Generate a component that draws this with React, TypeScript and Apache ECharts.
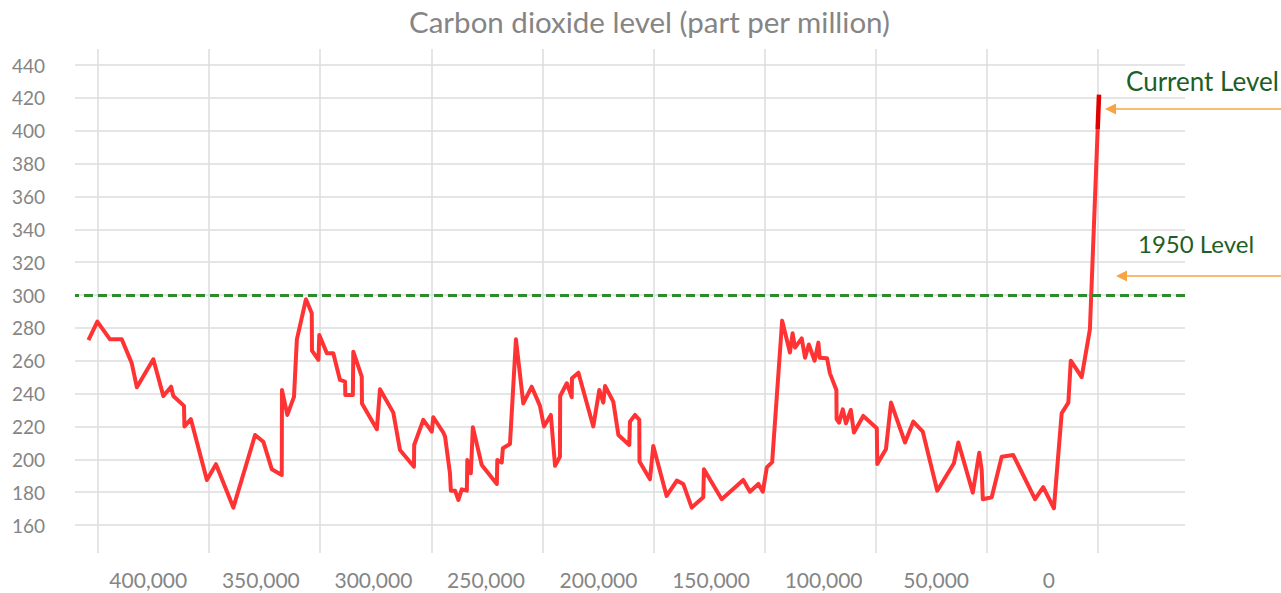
import React, { useEffect, useRef } from "react";
import * as echarts from "echarts";

const TITLE = "Carbon dioxide level (part per million)";
const xLabels = ["400,000", "350,000", "300,000", "250,000", "200,000", "150,000", "100,000", "50,000", "0"];
const yMin = 160;
const yMax = 440;
const yStep = 20;
const level1950 = 300;

// thousands of years before present (axis runs right-to-left)
const kya = [
  454.8, 450.8, 445.1, 439.8, 435.3, 433.0, 425.6, 421.1, 417.6, 416.6,
  411.8, 411.6, 408.7, 401.5, 397.4, 389.6, 379.8, 376.1, 372.3, 367.8,
  367.7, 365.3, 362.3, 361.0, 356.9, 354.3, 354.2, 351.3, 350.9, 347.5,
  344.6, 341.6, 339.3, 339.2, 335.8, 335.6, 331.8, 331.7, 325.0, 323.6,
  317.6, 314.6, 308.3, 308.2, 304.1, 300.3, 299.6, 295.1, 294.3, 292.1,
  291.7, 289.8, 288.3, 286.8, 284.5, 284.3, 282.7, 281.8, 277.8, 271.0,
  270.8, 268.8, 268.3, 265.1, 262.4, 259.1, 255.3, 251.6, 249.8, 246.7,
  244.8, 242.6, 242.5, 239.5, 237.3, 237.2, 234.3, 227.6, 224.9, 223.1,
  222.3, 218.6, 216.3, 211.4, 211.1, 208.8, 206.9, 206.8, 202.1, 200.6,
  194.6, 190.0, 187.1, 183.3, 178.1, 177.8, 169.8, 160.1, 157.1, 153.3,
  151.3, 149.5, 147.1, 142.6, 139.1, 137.9, 136.8, 133.8, 132.3, 130.6,
  128.0, 126.3, 125.7, 122.4, 121.1, 118.2, 118.1, 117.0, 115.3, 113.9,
  111.7, 110.3, 106.1, 100.0, 99.8, 95.9, 93.6, 87.3, 83.6, 79.3,
  72.8, 65.3, 63.3, 56.8, 53.9, 52.8, 52.3, 48.3, 43.8, 38.6,
  28.8, 25.1, 20.3, 16.8, 13.8, 12.7, 7.8, 4.1, 0.6,
];

const co2 = [
  272.6, 283.8, 273, 273, 258.4, 243.8, 260.9, 238.5, 244.2, 238.5,
  232.5, 220, 224.4, 187.4, 197, 170.6, 214.8, 210.7, 194, 190.5,
  242.2, 227, 238, 273, 297.4, 288.9, 266.1, 260.5, 275.7, 264.5,
  264.5, 248.3, 247.3, 239.2, 239.2, 265.5, 250.3, 234, 218.3, 242.6,
  228.4, 205.7, 195.5, 208.7, 224, 216.8, 225.6, 216.3, 213.8, 191.5,
  180.9, 180.9, 175.2, 181.7, 180.9, 199.6, 191.5, 219.5, 196.5, 185,
  199.6, 198, 206.7, 209.3, 273, 234, 244.2, 232.5, 220, 227,
  196, 201.6, 238.5, 246.3, 237.8, 249.3, 252.7, 220, 242.2, 234.5,
  244.6, 235.1, 214.8, 208.7, 222.9, 227, 224, 198.6, 187.8, 208.1,
  177.7, 187, 185, 170.6, 176.9, 194, 175.7, 187.4, 180.3, 185,
  180.3, 195.1, 198.3, 284.4, 265, 276.7, 268, 273.6, 261.8, 269.9,
  260, 271, 261.8, 261.5, 252.3, 242.2, 224.5, 222.3, 230.4, 221.9,
  230, 216.3, 226.4, 218.9, 197.2, 206.1, 234.5, 210.2, 222.9, 216.8,
  180.9, 197.6, 210.2, 179.7, 204, 193.5, 175.7, 176.9, 201.6, 202.6,
  175.7, 183, 170.2, 228, 234.5, 260, 250, 279.1, 401,
];

const currentKya = [0.6, 0];
const currentCo2 = [401, 422];

const FONT = "Lato, 'Noto Sans', sans-serif";
const GREY = "#858585";
const GRID_COLOR = "#dddddd";

export default function App() {
  const ref = useRef<HTMLDivElement>(null);

  useEffect(() => {
    if (!ref.current) return;
    const chart = echarts.init(ref.current, undefined, { renderer: "svg" });

    const mainData = kya.map((k, i) => [k, co2[i]]);
    const tailData = currentKya.map((k, i) => [k, currentCo2[i]]);

    const option: any = {
      animation: false,
      backgroundColor: "#ffffff",
      title: {
        text: TITLE,
        left: 404,
        top: 1,
        textStyle: { fontFamily: FONT, fontSize: 29.5, fontWeight: "normal", color: GREY },
      },
      grid: [
        { left: 75, right: 96, top: 65, bottom: 68 },
        { left: 98, right: 183, top: 49, bottom: 40 },
        { left: 92, right: 176, top: 49, bottom: 40 },
      ],
      xAxis: [
        { gridIndex: 0, type: "value", inverse: true, min: -38.7, max: 460.85, show: false },
        {
          gridIndex: 1,
          type: "category",
          data: xLabels,
          boundaryGap: true,
          axisLine: { show: false },
          axisTick: { show: false },
          axisLabel: { show: false, interval: 0 },
          splitLine: { show: true, interval: 0, lineStyle: { color: GRID_COLOR, width: 1.5 } },
        },
        {
          gridIndex: 2,
          type: "category",
          data: xLabels,
          boundaryGap: true,
          axisLine: { show: false },
          axisTick: { show: false },
          splitLine: { show: false },
          axisLabel: { interval: 0, margin: 16, fontSize: 21, color: GREY, fontFamily: FONT },
        },
      ],
      yAxis: [
        {
          gridIndex: 0,
          type: "value",
          min: yMin,
          max: yMax,
          interval: yStep,
          axisLine: { show: false },
          axisTick: { show: false },
          axisLabel: { margin: 30, fontSize: 19, color: GREY, fontFamily: FONT },
          splitLine: { show: true, lineStyle: { color: GRID_COLOR, width: 1.5 } },
        },
        { gridIndex: 1, type: "value", min: 0, max: 1, show: false },
        { gridIndex: 2, type: "value", min: 0, max: 1, show: false },
      ],
      series: [
        {
          type: "line",
          xAxisIndex: 0,
          yAxisIndex: 0,
          data: mainData,
          showSymbol: false,
          symbol: "none",
          lineStyle: { color: "#ff3333", width: 4, join: "round" },
          z: 3,
          markLine: {
            silent: true,
            symbol: "none",
            label: { show: false },
            lineStyle: { color: "#2d8a2d", type: [9, 5], width: 3 },
            data: [{ yAxis: level1950 }],
          },
        },
        {
          type: "line",
          xAxisIndex: 0,
          yAxisIndex: 0,
          data: tailData,
          showSymbol: false,
          symbol: "none",
          lineStyle: { color: "#e00000", width: 4.5 },
          z: 4,
        },
      ],
      graphic: [
        {
          type: "text",
          x: 1126,
          y: 81,
          style: {
            text: "Current Level",
            fill: "#1d5e27",
            font: `26px ${FONT}`,
            textVerticalAlign: "middle",
          },
        },
        {
          type: "text",
          x: 1138,
          y: 243,
          style: {
            text: "1950 Level",
            fill: "#1d5e27",
            font: `24px ${FONT}`,
            textVerticalAlign: "middle",
          },
        },
        {
          type: "line",
          shape: { x1: 1281, y1: 109, x2: 1114, y2: 109 },
          style: { stroke: "#f5a544", lineWidth: 1.5 },
        },
        {
          type: "polygon",
          shape: { points: [[1105, 109], [1116, 103.5], [1116, 114.5]] },
          style: { fill: "#f5a544" },
        },
        {
          type: "line",
          shape: { x1: 1281, y1: 276, x2: 1125, y2: 276 },
          style: { stroke: "#f5a544", lineWidth: 1.5 },
        },
        {
          type: "polygon",
          shape: { points: [[1116, 276], [1127, 270.5], [1127, 281.5]] },
          style: { fill: "#f5a544" },
        },
      ],
    };

    chart.setOption(option);
    return () => chart.dispose();
  }, []);

  return (
    <div
      ref={ref}
      style={{ position: "fixed", left: 0, top: 0, width: 1281, height: 593, background: "#fff" }}
    />
  );
}
